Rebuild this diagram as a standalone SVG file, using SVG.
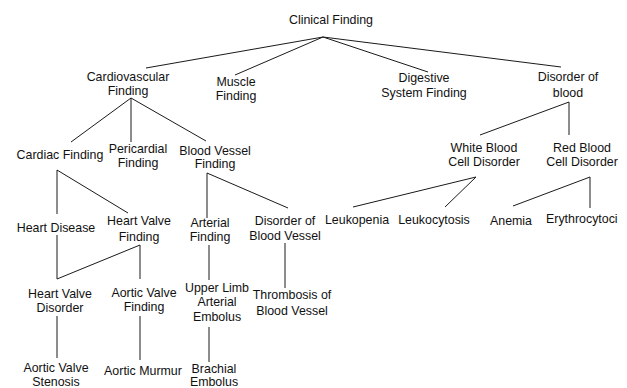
<svg xmlns="http://www.w3.org/2000/svg" width="627" height="388" viewBox="0 0 627 388">
<style>
text{font-family:"Liberation Sans",Arial,Helvetica,sans-serif;font-size:12.4px;fill:#111;text-anchor:middle}
.e line{stroke:#1a1a1a;stroke-width:1}
</style>
<rect width="627" height="388" fill="#fff"/>
<g id="connectors" class="e">
<line x1="323" y1="37" x2="146" y2="68"/>
<line x1="323" y1="37" x2="235" y2="75"/>
<line x1="323" y1="37" x2="428" y2="72"/>
<line x1="323" y1="37" x2="561" y2="67"/>
<line x1="131" y1="98" x2="71" y2="142"/>
<line x1="131" y1="98" x2="131" y2="142"/>
<line x1="131" y1="98" x2="206" y2="141"/>
<line x1="57" y1="170" x2="57" y2="214"/>
<line x1="57" y1="170" x2="128" y2="213"/>
<line x1="57" y1="235" x2="57" y2="279"/>
<line x1="140" y1="245" x2="57" y2="279"/>
<line x1="140" y1="245" x2="140" y2="279"/>
<line x1="57" y1="316" x2="57" y2="358"/>
<line x1="140" y1="316" x2="140" y2="360"/>
<line x1="207" y1="173" x2="207" y2="218"/>
<line x1="207" y1="173" x2="288" y2="208"/>
<line x1="209" y1="245" x2="209" y2="280"/>
<line x1="209" y1="327" x2="209" y2="362"/>
<line x1="285" y1="243" x2="285" y2="288"/>
<line x1="569" y1="102" x2="480" y2="135"/>
<line x1="569" y1="102" x2="569" y2="135"/>
<line x1="476" y1="177" x2="353" y2="207"/>
<line x1="476" y1="177" x2="445" y2="207"/>
<line x1="590" y1="177" x2="513" y2="206"/>
<line x1="590" y1="177" x2="590" y2="208"/>
</g>
<g id="clinical-finding"><text x="331" y="24">Clinical Finding</text></g>
<g id="cardiovascular-finding"><text x="128" y="81">Cardiovascular</text><text x="128" y="95">Finding</text></g>
<g id="muscle-finding"><text x="236" y="86">Muscle</text><text x="236" y="100">Finding</text></g>
<g id="digestive-system-finding"><text x="424" y="82">Digestive</text><text x="424" y="97">System Finding</text></g>
<g id="disorder-of-blood"><text x="568" y="81">Disorder of</text><text x="568" y="97">blood</text></g>
<g id="cardiac-finding"><text x="60" y="159">Cardiac Finding</text></g>
<g id="pericardial-finding"><text x="138" y="153">Pericardial</text><text x="138" y="167">Finding</text></g>
<g id="blood-vessel-finding"><text x="215" y="155">Blood Vessel</text><text x="215" y="168">Finding</text></g>
<g id="white-blood-cell-disorder"><text x="484" y="152">White Blood</text><text x="484" y="166">Cell Disorder</text></g>
<g id="red-blood-cell-disorder"><text x="582" y="152">Red Blood</text><text x="582" y="166">Cell Disorder</text></g>
<g id="heart-disease"><text x="56" y="232">Heart Disease</text></g>
<g id="heart-valve-finding"><text x="139" y="225">Heart Valve</text><text x="139" y="241">Finding</text></g>
<g id="arterial-finding"><text x="210" y="227">Arterial</text><text x="210" y="241">Finding</text></g>
<g id="disorder-of-blood-vessel"><text x="285" y="225">Disorder of</text><text x="285" y="240">Blood Vessel</text></g>
<g id="leukopenia"><text x="357" y="224">Leukopenia</text></g>
<g id="leukocytosis"><text x="434" y="224">Leukocytosis</text></g>
<g id="anemia"><text x="511" y="225">Anemia</text></g>
<g id="erythrocytosis"><text x="546" y="223" style="text-anchor:start">Erythrocytoci</text></g>
<g id="heart-valve-disorder"><text x="60" y="298">Heart Valve</text><text x="60" y="312">Disorder</text></g>
<g id="aortic-valve-finding"><text x="144" y="297">Aortic Valve</text><text x="144" y="311">Finding</text></g>
<g id="upper-limb-arterial-embolus"><text x="217" y="292">Upper Limb</text><text x="217" y="306">Arterial</text><text x="217" y="321">Embolus</text></g>
<g id="thrombosis-of-blood-vessel"><text x="292" y="299">Thrombosis of</text><text x="292" y="315">Blood Vessel</text></g>
<g id="aortic-valve-stenosis"><text x="56" y="372">Aortic Valve</text><text x="56" y="386">Stenosis</text></g>
<g id="aortic-murmur"><text x="143" y="375">Aortic Murmur</text></g>
<g id="brachial-embolus"><text x="214" y="373">Brachial</text><text x="214" y="386">Embolus</text></g>
</svg>
